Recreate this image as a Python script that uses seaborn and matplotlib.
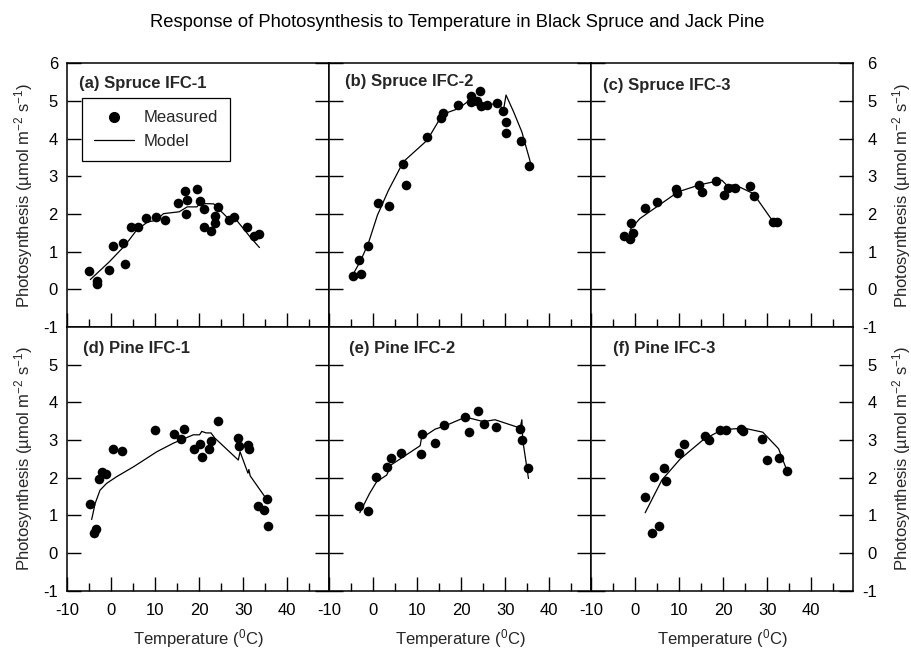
import matplotlib
matplotlib.use("Agg")
import matplotlib.pyplot as plt
import seaborn as sns
import pandas as pd
from matplotlib.ticker import MultipleLocator, FixedLocator
from matplotlib.lines import Line2D

# ---------------- data ----------------
a_meas_t = [-4.9, -3.1, -3.1, -0.4, 0.4, 2.7, 3.2, 4.5, 6.1, 8.0, 10.2, 12.3, 15.2, 16.8, 17.0, 17.3, 19.5, 20.2, 21.0, 21.0, 22.7, 23.6, 23.6, 24.2, 26.9, 28.0, 30.8, 32.5, 33.5]
a_meas_p = [0.49, 0.22, 0.13, 0.52, 1.15, 1.23, 0.66, 1.66, 1.66, 1.90, 1.91, 1.83, 2.29, 2.62, 2.01, 2.38, 2.67, 2.34, 2.14, 1.66, 1.56, 1.94, 1.75, 2.19, 1.85, 1.91, 1.66, 1.42, 1.46]
a_model_t = [-4.7, -0.4, 3.2, 5.8, 8.3, 10.2, 11.9, 15.5, 17.3, 19.5, 20.2, 23.3, 26.3, 28.2, 31.6, 33.7]
a_model_p = [0.26, 0.73, 1.17, 1.57, 1.79, 1.83, 2.01, 2.06, 2.19, 2.19, 2.28, 2.27, 1.92, 1.88, 1.39, 1.11]

b_meas_t = [-4.5, -3.1, -2.7, -1.2, 1.1, 3.6, 6.7, 7.6, 12.3, 15.5, 16.0, 19.4, 22.2, 22.2, 23.6, 24.4, 24.6, 25.8, 28.2, 29.5, 30.2, 30.2, 33.6, 35.5]
b_meas_p = [0.35, 0.79, 0.42, 1.15, 2.30, 2.20, 3.32, 2.77, 4.05, 4.54, 4.69, 4.89, 5.13, 4.98, 5.01, 5.27, 4.87, 4.90, 4.94, 4.73, 4.45, 4.16, 3.93, 3.28]
b_model_t = [-4.25, -2.95, -1.1, 1.0, 3.5, 6.9, 12.3, 15.8, 19.4, 22.0, 24.2, 25.8, 28.1, 29.5, 29.5, 30.2, 31.9, 33.8, 35.7]
b_model_p = [0.46, 0.73, 1.21, 1.97, 2.63, 3.39, 3.96, 4.65, 4.80, 5.03, 4.98, 4.89, 4.94, 4.80, 4.67, 5.16, 4.72, 4.18, 3.39]

c_meas_t = [-2.4, -1.1, -0.9, -0.4, 2.3, 4.9, 9.3, 9.6, 14.5, 15.2, 18.4, 20.3, 21.2, 22.6, 26.2, 27.0, 31.4, 32.3]
c_meas_p = [1.41, 1.34, 1.75, 1.50, 2.15, 2.32, 2.66, 2.56, 2.77, 2.59, 2.88, 2.50, 2.70, 2.70, 2.74, 2.48, 1.78, 1.78]
c_model_t = [-1.1, 1.1, 4.9, 9.8, 14.8, 19.7, 20.8, 22.8, 26.9, 31.4]
c_model_p = [1.59, 1.88, 2.19, 2.59, 2.78, 2.90, 2.77, 2.77, 2.54, 1.79]

d_meas_t = [-4.8, -3.9, -3.4, -2.7, -2.0, -1.1, 0.5, 2.6, 10.0, 14.2, 16.0, 16.6, 18.9, 20.3, 20.7, 22.3, 22.8, 24.2, 28.9, 29.0, 31.1, 31.4, 33.4, 34.8, 35.4, 35.7]
d_meas_p = [1.29, 0.52, 0.65, 1.97, 2.14, 2.10, 2.76, 2.71, 3.27, 3.15, 3.03, 3.29, 2.76, 2.90, 2.56, 2.76, 2.98, 3.51, 3.05, 2.83, 2.87, 2.76, 1.25, 1.14, 1.44, 0.72]
d_model_t = [-4.4, -3.6, -2.5, -1.0, 1.3, 5.1, 10.4, 14.2, 18.7, 20.1, 20.6, 21.6, 22.7, 23.6, 28.9, 29.3, 31.1, 31.3, 31.6, 35.2]
d_model_p = [0.89, 1.32, 1.67, 1.85, 2.03, 2.29, 2.69, 2.92, 3.14, 3.14, 3.23, 3.19, 3.19, 3.05, 2.47, 2.69, 2.12, 2.22, 2.05, 1.45]

e_meas_t = [-3.1, -1.2, 0.6, 3.1, 4.1, 6.4, 10.8, 11.1, 14.0, 16.1, 20.9, 21.8, 23.9, 25.2, 27.9, 33.4, 33.8, 35.3]
e_meas_p = [1.25, 1.12, 2.03, 2.29, 2.53, 2.65, 2.62, 3.15, 2.93, 3.40, 3.61, 3.22, 3.78, 3.44, 3.35, 3.29, 2.99, 2.25]
e_model_t = [-3.0, -0.8, 0.8, 3.1, 4.1, 10.7, 11.0, 14.1, 16.4, 21.0, 25.1, 27.7, 33.4, 33.8, 34.0, 35.3]
e_model_p = [1.07, 1.58, 1.89, 2.07, 2.34, 2.85, 3.05, 3.29, 3.38, 3.61, 3.49, 3.54, 3.32, 3.54, 3.00, 1.98]

f_meas_t = [2.3, 3.9, 4.2, 5.4, 6.6, 7.0, 9.9, 11.1, 15.9, 16.9, 19.3, 20.7, 24.1, 24.6, 28.9, 29.9, 32.6, 34.5]
f_meas_p = [1.49, 0.54, 2.03, 0.72, 2.25, 1.92, 2.65, 2.90, 3.12, 3.01, 3.27, 3.27, 3.30, 3.25, 3.02, 2.47, 2.53, 2.17]
f_model_t = [2.3, 6.1, 10.2, 15.5, 19.7, 24.6, 29.0, 32.6, 34.5]
f_model_p = [1.07, 1.94, 2.49, 3.01, 3.27, 3.32, 3.21, 2.77, 2.19]

panel_titles = ["(a) Spruce IFC-1", "(b) Spruce IFC-2", "(c) Spruce IFC-3",
                "(d) Pine IFC-1", "(e) Pine IFC-2", "(f) Pine IFC-3"]
x_ticks = [-10, 0, 10, 20, 30, 40]
y_ticks_top = [-1, 0, 1, 2, 3, 4, 5, 6]
y_ticks_bottom = [-1, 0, 1, 2, 3, 4, 5]
title = "Response of Photosynthesis to Temperature in Black Spruce and Jack Pine"
ylabel = "Photosynthesis (\u00b5mol m$^{-2}$ s$^{-1}$)"
xlabel = "Temperature ($^{0}$C)"

measured = [(a_meas_t, a_meas_p), (b_meas_t, b_meas_p), (c_meas_t, c_meas_p),
            (d_meas_t, d_meas_p), (e_meas_t, e_meas_p), (f_meas_t, f_meas_p)]
models = [(a_model_t, a_model_p), (b_model_t, b_model_p), (c_model_t, c_model_p),
          (d_model_t, d_model_p), (e_model_t, e_model_p), (f_model_t, f_model_p)]

# ---------------- style ----------------
sns.set_style("ticks")
plt.rcParams['font.family'] = ['Liberation Sans', 'DejaVu Sans']
plt.rcParams['mathtext.fontset'] = 'custom'
plt.rcParams['mathtext.rm'] = 'Liberation Sans'
plt.rcParams['mathtext.it'] = 'Liberation Sans:italic'
plt.rcParams['mathtext.bf'] = 'Liberation Sans:bold'
plt.rcParams['axes.unicode_minus'] = False
plt.rcParams['axes.edgecolor'] = 'black'
plt.rcParams['axes.linewidth'] = 1.1
plt.rcParams['xtick.color'] = 'black'
plt.rcParams['ytick.color'] = 'black'

FS = 12

fig = plt.figure(figsize=(9.12, 6.51), dpi=100)
fig.text(0.501, 0.966, title, ha='center', va='center', fontsize=13.2, color='black')

lefts = [67 / 912, 329 / 912, 591 / 912]
w = 262 / 912
bottoms = [1 - 327 / 651, 1 - 590.7 / 651]
h = 263.6 / 651

title_pos = [(0.046, 0.922), (0.062, 0.93), (0.046, 0.918),
             (0.061, 0.917), (0.076, 0.92), (0.084, 0.92)]

for i in range(6):
    row, col = divmod(i, 3)
    ax = fig.add_axes([lefts[col], bottoms[row], w, h])
    mt, mp = measured[i]
    lt, lp = models[i]
    df_m = pd.DataFrame({"t": mt, "p": mp})
    df_l = pd.DataFrame({"t": lt, "p": lp})
    sns.lineplot(data=df_l, x="t", y="p", ax=ax, sort=False, estimator=None,
                 color='black', linewidth=0.9, zorder=2)
    sns.scatterplot(data=df_m, x="t", y="p", ax=ax, color='black', s=48,
                    edgecolor='black', linewidth=0, zorder=3)
    ax.set_xlim(-10, 49.5)
    ax.set_ylim(-1, 6)
    ax.xaxis.set_major_locator(FixedLocator(x_ticks))
    ax.xaxis.set_minor_locator(MultipleLocator(5))
    ax.set_yticks(y_ticks_top if row == 0 else y_ticks_bottom)
    ax.tick_params(axis='x', which='both', direction='in', bottom=True, top=False,
                   labelbottom=(row == 1), labelsize=FS, pad=8.5, width=1)
    ax.tick_params(axis='x', which='major', length=10)
    ax.tick_params(axis='x', which='minor', length=6)
    ax.tick_params(axis='y', which='both', direction='in', left=True, right=True,
                   labelleft=(col == 0), labelright=(col == 2), length=10,
                   labelsize=FS, pad=6.5, width=1)
    if col == 2:
        ax.tick_params(axis='y', which='major', pad=17)
        for tk in ax.yaxis.get_major_ticks():
            tk.label2.set_horizontalalignment('right')
    ax.set_xlabel(xlabel if row == 1 else "", fontsize=FS, labelpad=7)
    if col == 0:
        ax.set_ylabel(ylabel, fontsize=FS, labelpad=6)
    elif col == 2:
        ax.yaxis.set_label_position('right')
        ax.set_ylabel(ylabel, fontsize=FS, labelpad=10)
    else:
        ax.set_ylabel("")
    for sp in ax.spines.values():
        sp.set_visible(True)
        sp.set_color('black')
    ax.text(title_pos[i][0], title_pos[i][1], panel_titles[i], transform=ax.transAxes,
            fontsize=FS, fontweight='bold', ha='left', va='center')
    if i == 0:
        handles = [Line2D([], [], marker='o', color='black', linestyle='none', markersize=7),
                   Line2D([], [], color='black', linewidth=0.9)]
        leg = ax.legend(handles, ["Measured", "Model"], loc='upper left',
                        bbox_to_anchor=(0.057, 0.869), fontsize=FS, frameon=True,
                        fancybox=False, edgecolor='black', framealpha=1,
                        handlelength=2.4, handletextpad=0.55, borderpad=0.75,
                        labelspacing=0.5, borderaxespad=0)
        leg.get_frame().set_linewidth(0.9)
    else:
        if ax.get_legend() is not None:
            ax.get_legend().remove()

fig.savefig("out.png", dpi=100)
